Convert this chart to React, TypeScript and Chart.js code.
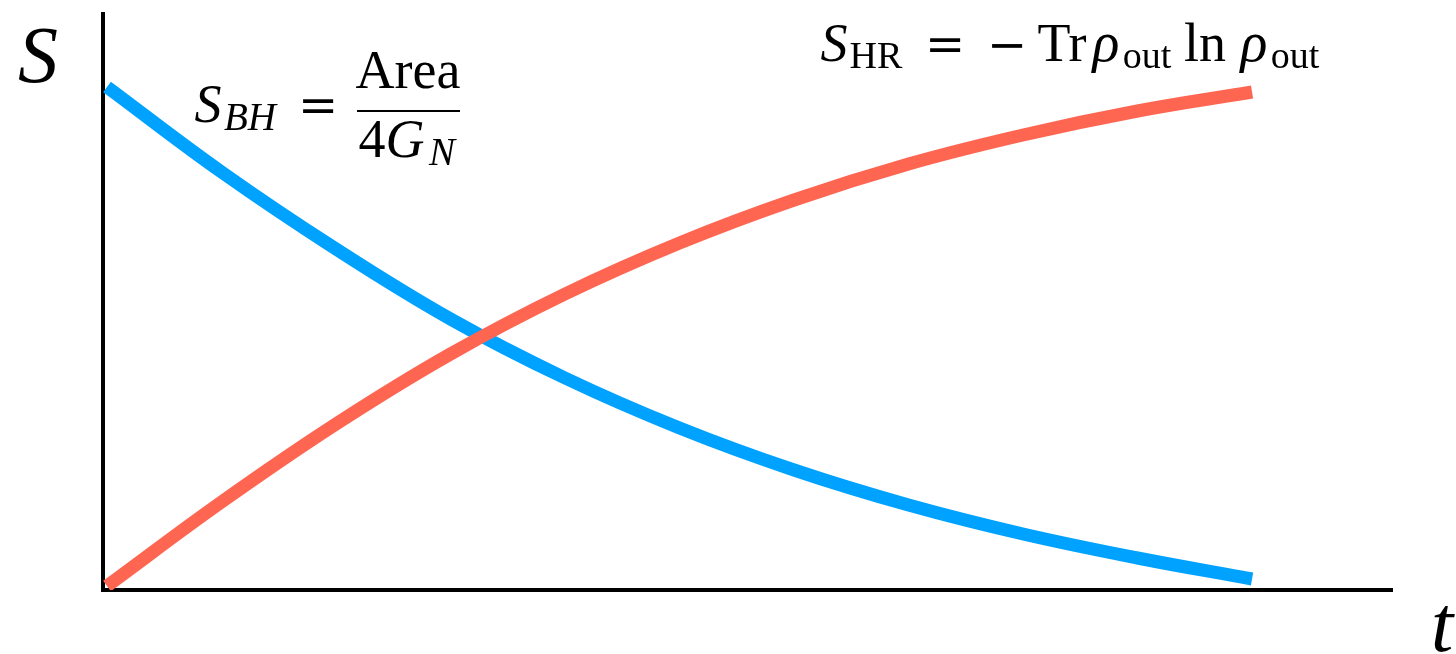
import React, { useEffect, useRef } from "react";
import { Chart, registerables } from "chart.js";

Chart.register(...registerables);

// Time samples (arbitrary units) and the two entropy curves
const T_VALUES = [0, 1, 2, 3, 4, 5, 6, 7, 8, 9, 10];
const S_BLACK_HOLE = [503, 418, 341, 271, 212, 162, 120, 85, 56, 32, 11];
const S_RADIATION = [4, 88, 166, 236, 296, 347, 390, 426, 455, 479, 498];

const AXIS_Y_LABEL = "S";
const AXIS_X_LABEL = "t";

const BLUE = "#00A2FF";
const RED = "#FF6652";
const SERIF = '"Liberation Serif", "DejaVu Serif", serif';
const OPERATOR = '"DejaVu Serif", "Liberation Serif", serif';

// a piece of formula text, centred horizontally on cx
type Run = { text: string; cx: number; y: number; size: number; italic?: boolean; family?: string };

function drawRuns(ctx: CanvasRenderingContext2D, runs: Run[]) {
  ctx.textAlign = "center";
  for (const r of runs) {
    ctx.font = `${r.italic ? "italic " : ""}${r.size}px ${r.family ?? SERIF}`;
    ctx.fillText(r.text, r.cx, r.y);
  }
}

const axesPlugin = {
  id: "plainAxes",
  beforeDatasetsDraw(chart: any) {
    const { ctx, chartArea } = chart;
    ctx.save();
    ctx.strokeStyle = "#000";
    ctx.lineWidth = 4;
    ctx.lineCap = "butt";
    ctx.beginPath();
    ctx.moveTo(chartArea.left, chartArea.top);
    ctx.lineTo(chartArea.left, chartArea.bottom + 2);
    ctx.moveTo(chartArea.left - 2, chartArea.bottom);
    ctx.lineTo(chartArea.right, chartArea.bottom);
    ctx.stroke();
    ctx.restore();
  },
  afterDraw(chart: any) {
    const { ctx } = chart;
    ctx.save();
    ctx.fillStyle = "#000";
    ctx.textBaseline = "alphabetic";

    // axis names
    drawRuns(ctx, [
      { text: AXIS_Y_LABEL, cx: 38, y: 82, size: 80, italic: true },
      { text: AXIS_X_LABEL, cx: 1442, y: 651, size: 80, italic: true },
    ]);

    // S_BH = Area / 4G_N
    drawRuns(ctx, [
      { text: "S", cx: 208, y: 122, size: 54, italic: true },
      { text: "BH", cx: 250, y: 130, size: 39, italic: true },
      { text: "=", cx: 318, y: 122, size: 48, family: OPERATOR },
      { text: "Area", cx: 408, y: 88, size: 54 },
      { text: "4", cx: 372, y: 157, size: 54 },
      { text: "G", cx: 405, y: 157, size: 54, italic: true },
      { text: "N", cx: 442, y: 165, size: 39, italic: true },
    ]);
    ctx.fillRect(357, 110, 103, 2);

    // S_HR = -Tr rho_out ln rho_out
    drawRuns(ctx, [
      { text: "S", cx: 834, y: 61, size: 54, italic: true },
      { text: "HR", cx: 876, y: 68, size: 38 },
      { text: "=", cx: 945, y: 61, size: 48, family: OPERATOR },
      { text: "\u2212", cx: 1007, y: 61, size: 48, family: OPERATOR },
      { text: "Tr", cx: 1062, y: 61, size: 54 },
      { text: "\u03C1", cx: 1106, y: 61, size: 56, italic: true },
      { text: "out", cx: 1147, y: 68, size: 38 },
      { text: "ln", cx: 1205, y: 61, size: 54 },
      { text: "\u03C1", cx: 1254, y: 61, size: 56, italic: true },
      { text: "out", cx: 1295, y: 68, size: 38 },
    ]);
    ctx.restore();
  },
};

export default function App() {
  const canvasRef = useRef<HTMLCanvasElement | null>(null);

  useEffect(() => {
    document.body.style.margin = "0";
    const canvas = canvasRef.current;
    if (!canvas) return;
    const toPoints = (ys: number[]) => T_VALUES.map((t, i) => ({ x: t, y: ys[i] }));

    const chart = new Chart(canvas, {
      type: "line",
      data: {
        datasets: [
          {
            label: "S_HR",
            data: toPoints(S_RADIATION),
            borderColor: RED,
            borderWidth: 13,
            borderCapStyle: "butt",
            pointRadius: 0,
            tension: 0.4,
            fill: false,
            order: 1,
          },
          {
            label: "S_BH",
            data: toPoints(S_BLACK_HOLE),
            borderColor: BLUE,
            borderWidth: 13,
            borderCapStyle: "butt",
            pointRadius: 0,
            tension: 0.4,
            fill: false,
            order: 2,
          },
        ],
      },
      options: {
        animation: false,
        responsive: false,
        devicePixelRatio: 1,
        layout: { padding: { left: 103, right: 63, top: 12, bottom: 64 } },
        scales: {
          x: { type: "linear", min: -0.035, max: 11.231, display: false },
          y: { type: "linear", min: 0, max: 578, display: false },
        },
        plugins: {
          legend: { display: false },
          tooltip: { enabled: false },
        },
      },
      plugins: [axesPlugin],
    });
    return () => chart.destroy();
  }, []);

  return (
    <div style={{ position: "fixed", left: 0, top: 0, width: 1456, height: 654, background: "#fff" }}>
      <canvas ref={canvasRef} width={1456} height={654} />
    </div>
  );
}
